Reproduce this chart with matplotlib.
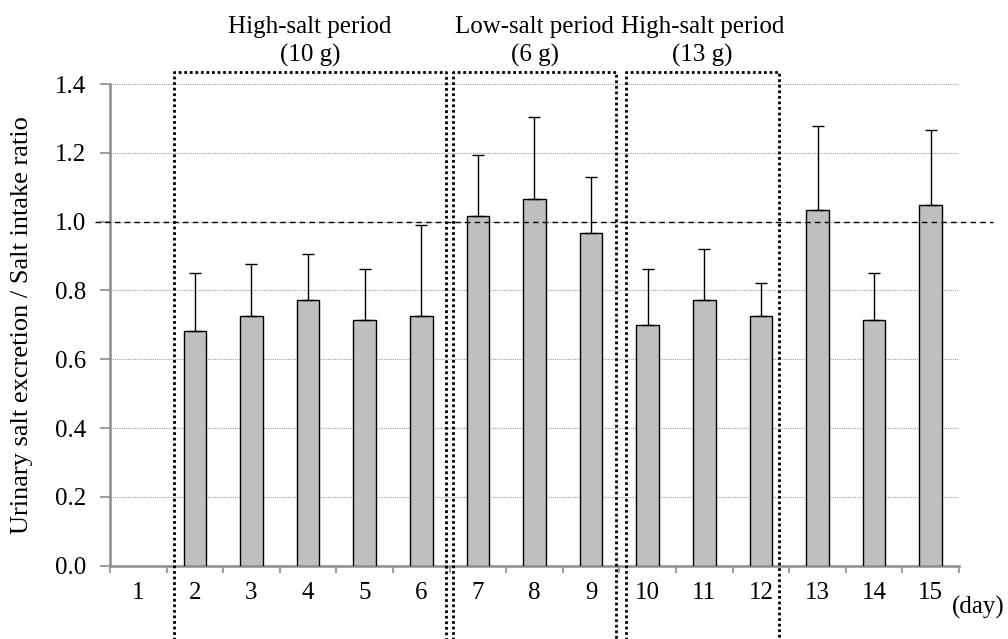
"""Urinary salt excretion / salt intake ratio by day, with the diet periods boxed."""

import matplotlib
matplotlib.use("Agg")
import matplotlib.pyplot as plt
import numpy as np

plt.rcParams["font.family"] = ["Liberation Serif", "DejaVu Serif"]

# data
days = ["1", "2", "3", "4", "5", "6", "7", "8", "9", "10", "11", "12", "13", "14", "15"]
ratio_mean = [np.nan, 0.682, 0.727, 0.771, 0.714, 0.727, 1.015, 1.067, 0.966,
              0.699, 0.771, 0.727, 1.035, 0.713, 1.047]
ratio_err_top = [np.nan, 0.852, 0.876, 0.907, 0.863, 0.990, 1.193, 1.303, 1.129,
                 0.863, 0.920, 0.823, 1.279, 0.851, 1.265]

period_labels = ["High-salt period\n(10 g)", "Low-salt period\n(6 g)", "High-salt period\n(13 g)"]
period_spans = [(1.63, 6.43), (6.565, 9.445), (9.61, 12.325)]

yticks = [0.0, 0.2, 0.4, 0.6, 0.8, 1.0, 1.2, 1.4]

GREY = "#8c8c8c"
FS = 18

fig = plt.figure(figsize=(10.08, 6.39), dpi=100)
ax = fig.add_axes([0.1091, 0.1147, 0.8423, 0.7538])

x = np.arange(1, len(days) + 1)
mean = np.array(ratio_mean)
err = np.array(ratio_err_top) - mean

ax.bar(x, mean, width=0.4, color="#bfbfbf", edgecolor="black", linewidth=1.0, zorder=3)
ax.errorbar(x, mean, yerr=[np.zeros_like(err), err], fmt="none", ecolor="black",
            elinewidth=1.0, capsize=4, capthick=1.0, zorder=4)

ax.set_xlim(0.5, len(days) + 0.5)
ax.set_ylim(0, 1.4)
ax.set_yticks(yticks)
ax.set_yticklabels([f"{v:.1f}" for v in yticks], fontsize=FS)
ax.set_xticks(x)
ax.set_xticklabels(days, fontsize=FS)
ax.set_xticks(np.arange(0.5, len(days) + 1), minor=True)
ax.tick_params(axis="x", which="major", length=0, pad=12)
ax.tick_params(axis="x", which="minor", length=5, width=1.2, color=GREY)
ax.tick_params(axis="y", length=7, width=1.2, color=GREY, pad=10)

for side in ("top", "right"):
    ax.spines[side].set_visible(False)
for side in ("left", "bottom"):
    ax.spines[side].set_color(GREY)
    ax.spines[side].set_linewidth(1.8)

ax.yaxis.grid(True, linestyle=(0, (1, 1)), color="#a0a0a0", linewidth=0.8, zorder=0)

# reference line at ratio 1.0, running past both ends of the axis
ax.plot([0.24, 16.1], [1.0, 1.0], color="black", linestyle=(0, (4, 3)),
        linewidth=1.0, clip_on=False, zorder=5)

# dotted period boxes, open at the bottom
for (x0, x1), label in zip(period_spans, period_labels):
    ax.plot([x0, x0, x1, x1], [-0.22, 1.435, 1.435, -0.22], color="black",
            linestyle=(0, (1, 1)), linewidth=2.0, clip_on=False, zorder=5)
    ax.text((x0 + x1) / 2, 1.45, label, ha="center", va="bottom", fontsize=FS,
            linespacing=1.35)

ax.set_ylabel("Urinary salt excretion / Salt intake ratio", fontsize=19)
ax.yaxis.set_label_coords(-0.0907, 0.5)
ax.text(15.38, -0.12, "(day)", ha="left", va="center", fontsize=FS, clip_on=False)

fig.savefig("out.png", dpi=100)
